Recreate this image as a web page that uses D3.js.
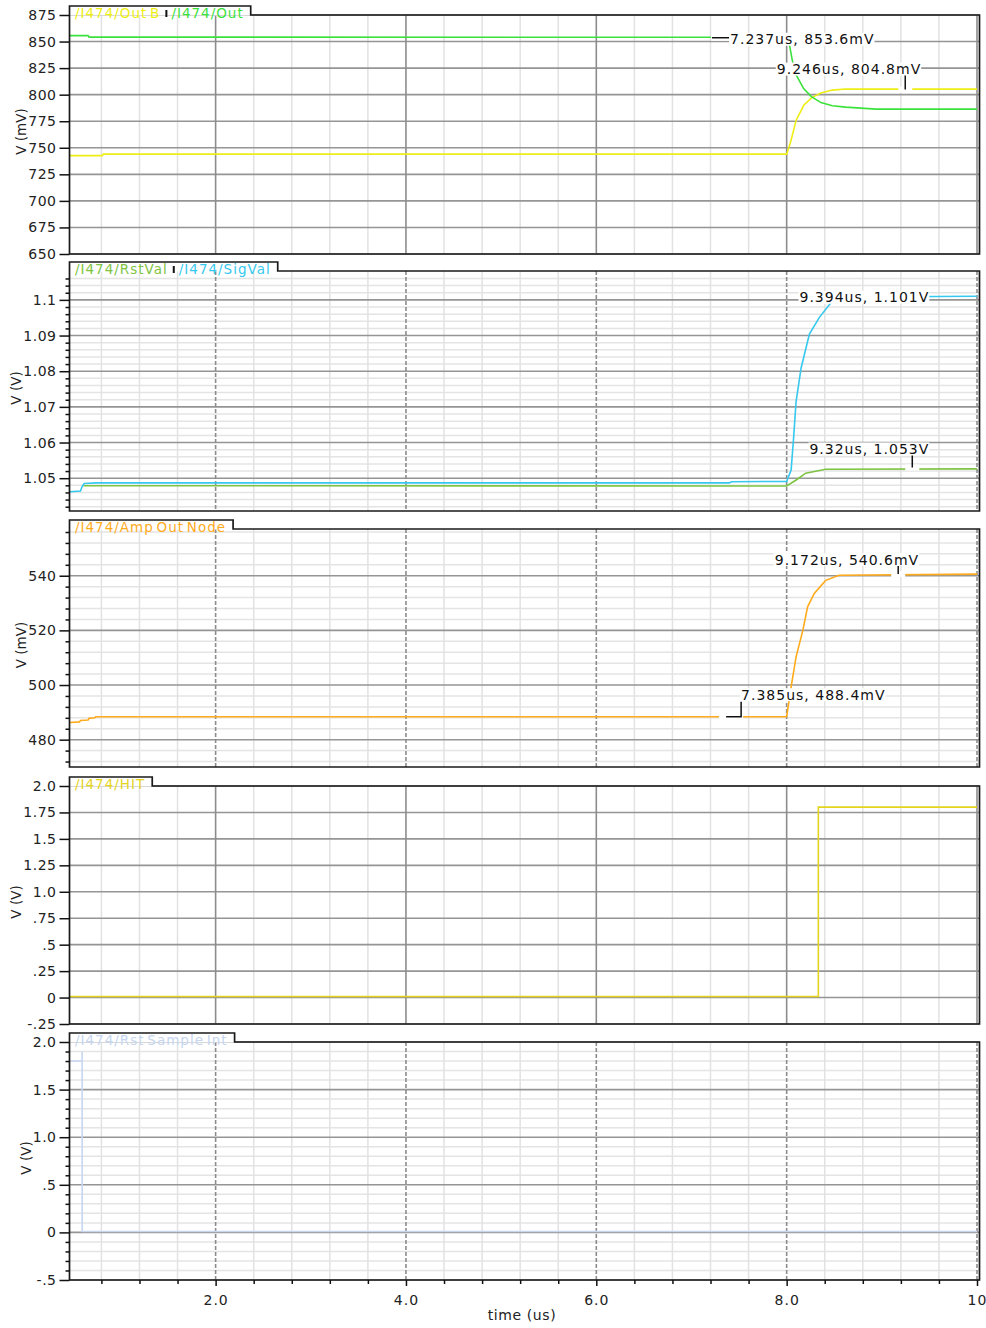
<!DOCTYPE html>
<html>
<head>
    <meta charset="utf-8">
    <title>Transient waveforms</title>
    <script src="https://d3js.org/d3.v7.min.js"></script>
    <style>
        body { margin: 0; background: #fff; }
        text { font-family: "DejaVu Sans", Verdana, sans-serif; }
    </style>
</head>
<body>
<div id="cont"></div>
<script>
var timeMajor = [2, 4, 6, 8, 10];
var timeLabels = ['2.0', '4.0', '6.0', '8.0', '10'];
var timeMinor = [0.8, 1.2, 1.6, 2.4, 2.8, 3.2, 3.6, 4.4, 4.8, 5.2, 5.6, 6.4, 6.8, 7.2, 7.6, 8.4, 8.8, 9.2, 9.6];

var outTicks = [650, 675, 700, 725, 750, 775, 800, 825, 850, 875];
var outLabels = ['650', '675', '700', '725', '750', '775', '800', '825', '850', '875'];
var valTicks = [1.05, 1.06, 1.07, 1.08, 1.09, 1.1];
var valLabels = ['1.05', '1.06', '1.07', '1.08', '1.09', '1.1'];
var valMinor = [1.042, 1.044, 1.046, 1.048, 1.052, 1.054, 1.056, 1.058, 1.062, 1.064, 1.066, 1.068,
    1.072, 1.074, 1.076, 1.078, 1.082, 1.084, 1.086, 1.088, 1.092, 1.094, 1.096, 1.098, 1.102, 1.104, 1.106];
var ampTicks = [480, 500, 520, 540];
var ampLabels = ['480', '500', '520', '540'];
var ampMinor = [472, 476, 484, 488, 492, 496, 504, 508, 512, 516, 524, 528, 532, 536, 544, 548, 552, 556];
var hitTicks = [-0.25, 0, 0.25, 0.5, 0.75, 1.0, 1.25, 1.5, 1.75, 2.0];
var hitLabels = ['-.25', '0', '.25', '.5', '.75', '1.0', '1.25', '1.5', '1.75', '2.0'];
var rstTicks = [-0.5, 0, 0.5, 1.0, 1.5, 2.0];
var rstLabels = ['-.5', '0', '.5', '1.0', '1.5', '2.0'];
var rstMinor = [-0.4, -0.3, -0.2, -0.1, 0.1, 0.2, 0.3, 0.4, 0.6, 0.7, 0.8, 0.9, 1.1, 1.2, 1.3, 1.4, 1.6, 1.7, 1.8, 1.9];

var signalNames = ['/I474/Out B', '/I474/Out', '/I474/RstVal', '/I474/SigVal',
    '/I474/Amp Out Node', '/I474/HIT', '/I474/Rst Sample Int'];

// [time (us), value]
var outB = [[0.47, 742.6], [0.81, 742.6], [0.82, 744.0], [8.0, 744.0], [8.04, 755], [8.1, 776],
    [8.18, 790], [8.26, 797], [8.36, 801.5], [8.48, 804.3], [8.62, 805.3], [10, 805.2]];
var outP = [[0.47, 855.6], [0.66, 855.6], [0.67, 854.2], [8.0, 854.0], [8.03, 846.8], [8.06, 832],
    [8.1, 818.6], [8.18, 805.5], [8.26, 798.2], [8.36, 792.5], [8.48, 789.5], [8.62, 788.3], [8.94, 786.4], [10, 786.4]];
var rstVal = [[0.61, 1.0479], [8.0, 1.0478], [8.1, 1.0495], [8.2, 1.0514], [8.41, 1.0525], [10, 1.0526]];
var sigVal = [[0.47, 1.0462], [0.58, 1.0464], [0.6, 1.0478], [0.62, 1.0485], [0.75, 1.0487], [7.4, 1.0487],
    [7.42, 1.0490], [8.0, 1.0491], [8.047, 1.0523], [8.075, 1.062], [8.099, 1.0715], [8.152, 1.0809],
    [8.239, 1.0904], [8.344, 1.0951], [8.484, 1.0998], [8.7, 1.1008], [10, 1.1010]];
var ampOut = [[0.47, 486.3], [0.57, 486.5], [0.58, 487.0], [0.66, 487.2], [0.67, 487.8], [0.73, 488.0],
    [0.74, 488.4], [8.0, 488.4], [8.047, 499.3], [8.099, 510.3], [8.17, 520], [8.22, 528.6],
    [8.29, 533.5], [8.41, 538.3], [8.55, 540.2], [10, 540.6]];
var hit = [[0.47, 0.01], [8.333, 0.01], [8.333, 1.8], [10, 1.8]];
var rstSample = [[0.47, 1.8], [0.597, 1.8], [0.597, 1.9], [0.598, 0.01], [10, 0.01]];

var outMarks = [{t: 7.237, v: 853.6, text: '7.237us, 853.6mV'}, {t: 9.246, v: 804.8, text: '9.246us, 804.8mV'}];
var valMarks = [{t: 9.394, v: 1.101, text: '9.394us, 1.101V'}, {t: 9.32, v: 1.053, text: '9.32us, 1.053V'}];
var ampMarks = [{t: 7.385, v: 488.4, text: '7.385us, 488.4mV'}, {t: 9.172, v: 540.6, text: '9.172us, 540.6mV'}];

(function() {
    var W = 986, H = 1328,
        left = 70, right = 977, frameR = 979.5,
        svg = d3.select('#cont').append('svg').attr('width', W).attr('height', H),
        x = d3.scaleLinear().domain([0.47, 10]).range([left, right]);

    var yellow = '#eeee14', green = '#3ce23c', olive = '#7ec443', cyan = '#36c8ee',
        orange = '#ffab1c', gold = '#e4d41e', pale = '#c6d6f0';

    var panels = [
        {top: 15, bottom: 254, domain: [650, 875], ticks: outTicks, labels: outLabels, minor: [], dash: false,
            title: 'V (mV)', legend: [[signalNames[0], yellow], [signalNames[1], green]],
            series: [[outB, yellow], [outP, green]], marks: outMarks,
            layouts: [{kind: 'side'}, {kind: 'above', len: 14, dx: 16}]},
        {top: 271, bottom: 511, domain: [1.0408, 1.1081], ticks: valTicks, labels: valLabels, minor: valMinor, dash: true,
            title: 'V (V)', legend: [[signalNames[2], olive], [signalNames[3], cyan]],
            series: [[rstVal, olive], [sigVal, cyan]], marks: valMarks,
            layouts: [{kind: 'left'}, {kind: 'above', len: 12, dx: 17}]},
        {top: 529, bottom: 767, domain: [470, 557.1], ticks: ampTicks, labels: ampLabels, minor: ampMinor, dash: true,
            title: 'V (mV)', legend: [[signalNames[4], orange]],
            series: [[ampOut, orange]], marks: ampMarks,
            layouts: [{kind: 'step'}, {kind: 'above', len: 8, dx: 21}]},
        {top: 786, bottom: 1024, domain: [-0.25, 2.0], ticks: hitTicks, labels: hitLabels, minor: [], dash: false,
            title: 'V (V)', legend: [[signalNames[5], gold]],
            series: [[hit, gold]], marks: [], layouts: []},
        {top: 1042, bottom: 1280, domain: [-0.5, 2.0], ticks: rstTicks, labels: rstLabels, minor: rstMinor, dash: true,
            title: 'V (V)', legend: [[signalNames[6], pale]],
            series: [[rstSample, pale]], marks: [], layouts: []}
    ];

    panels.forEach(function(p, pi) {
        var y = d3.scaleLinear().domain(p.domain).range([p.bottom, p.top]);
        var g = svg.append('g');
        var gGrid = g.append('g'), gCurve = g.append('g'), gMark = g.append('g'),
            gFrame = g.append('g'), gLegend = g.append('g'), gAxis = g.append('g');

        svg.append('clipPath').attr('id', 'clip' + pi)
            .append('rect').attr('x', left).attr('y', p.top).attr('width', frameR - left).attr('height', p.bottom - p.top);
        gCurve.attr('clip-path', 'url(#clip' + pi + ')');

        //grid
        gGrid.selectAll('.hmin').data(p.minor).enter().append('line')
            .attr('x1', left).attr('x2', frameR).attr('y1', y).attr('y2', y)
            .attr('stroke', '#e4e4e4').attr('stroke-width', 1.5);
        gGrid.selectAll('.vmin').data(timeMinor).enter().append('line')
            .attr('x1', x).attr('x2', x).attr('y1', p.top).attr('y2', p.bottom)
            .attr('stroke', '#e2e2e2').attr('stroke-width', 1.5);
        gGrid.selectAll('.hmaj').data(p.ticks).enter().append('line')
            .attr('x1', left).attr('x2', frameR).attr('y1', y).attr('y2', y)
            .attr('stroke', '#959595').attr('stroke-width', 1.6);
        gGrid.selectAll('.vmaj').data(timeMajor).enter().append('line')
            .attr('x1', x).attr('x2', x).attr('y1', p.top).attr('y2', p.bottom)
            .attr('stroke', '#8c8c8c').attr('stroke-width', 1.6)
            .attr('stroke-dasharray', p.dash ? '4,2' : null);

        //curves
        var line = d3.line().x(function(d) { return x(d[0]); }).y(function(d) { return y(d[1]); });
        p.series.forEach(function(s) {
            gCurve.append('path').attr('d', line(s[0])).attr('fill', 'none')
                .attr('stroke', s[1]).attr('stroke-width', 1.6);
        });

        //markers
        p.marks.forEach(function(m, i) {
            var lay = p.layouts[i], px = x(m.t), py = y(m.v);
            var txt = gMark.append('text').attr('font-size', 14).style('letter-spacing', '1px')
                .attr('fill', '#111').attr('dy', '0.36em').text(m.text);
            var w = txt.node().getComputedTextLength(), tx, ty;
            if (lay.kind === 'side') {
                gMark.insert('rect', 'text').attr('x', px - 3).attr('y', py - 3).attr('width', 18).attr('height', 6).attr('fill', '#fff');
                gMark.append('line').attr('x1', px - 2).attr('x2', px + 15).attr('y1', py).attr('y2', py)
                    .attr('stroke', '#111').attr('stroke-width', 1.5);
                tx = px + 16; ty = py + 1.5;
            } else if (lay.kind === 'above') {
                gMark.insert('rect', 'text').attr('x', px - 7).attr('y', py - 3).attr('width', 14).attr('height', 6).attr('fill', '#fff');
                gMark.append('line').attr('x1', px).attr('x2', px).attr('y1', py).attr('y2', py - lay.len)
                    .attr('stroke', '#111').attr('stroke-width', 1.5);
                tx = px + lay.dx - w; ty = py - lay.len - 6.5;
            } else if (lay.kind === 'left') {
                tx = px + 10 - w; ty = py + 1;
            } else {
                gMark.insert('rect', 'text').attr('x', px - 9).attr('y', py - 3).attr('width', 24).attr('height', 6).attr('fill', '#fff');
                gMark.append('path').attr('d', 'M' + (px - 2) + ',' + py + 'H' + (px + 13) + 'V' + (py - 15))
                    .attr('fill', 'none').attr('stroke', '#111').attr('stroke-width', 1.5);
                tx = px + 13; ty = py - 22;
            }
            txt.attr('x', tx).attr('y', ty);
            gMark.insert('rect', 'text').attr('x', tx - 1).attr('y', ty - 6.5)
                .attr('width', w + 1).attr('height', 13).attr('fill', '#fff');
        });

        //legend
        var lx = 75;
        p.legend.forEach(function(l, i) {
            if (i > 0) {
                gLegend.append('line').attr('x1', lx + 2).attr('x2', lx + 2).attr('y1', p.top - 5).attr('y2', p.top + 2)
                    .attr('stroke', '#111').attr('stroke-width', 2);
                lx += 7;
            }
            var t = gLegend.append('text').attr('x', lx).attr('y', p.top + 3)
                .attr('font-size', 13.5).style('letter-spacing', '1px').style('word-spacing', '-2.5px')
                .attr('fill', l[1]).text(l[0]);
            lx += t.node().getComputedTextLength() + 4;
        });
        var tabR = lx + 3;

        //frame with legend tab
        gFrame.append('rect').attr('x', left).attr('y', p.top - 9).attr('width', tabR - left).attr('height', 9.5).attr('fill', '#fff');
        gFrame.append('path')
            .attr('d', 'M' + (left - 0.5) + ',' + p.bottom + 'V' + (p.top - 9) + 'H' + tabR + 'V' + p.top +
                'H' + frameR + 'V' + p.bottom + 'Z')
            .attr('fill', 'none').attr('stroke', '#1a1a1a').attr('stroke-width', 1.7);

        //y axes
        var ax = gAxis.append('g').attr('transform', 'translate(' + (left - 0.5) + ',0)')
            .call(d3.axisLeft(y).tickValues(p.ticks).tickSize(10).tickPadding(3)
                .tickFormat(function(d, i) { return p.labels[i]; }));
        ax.attr('font-size', 14).attr('font-family', null).style('letter-spacing', '0.5px');
        ax.select('.domain').remove();
        ax.selectAll('line').attr('stroke', '#111').attr('stroke-width', 1.5);
        ax.selectAll('text').attr('fill', '#222');
        if (p.minor.length) {
            var mx = gAxis.append('g').attr('transform', 'translate(' + (left - 0.5) + ',0)')
                .call(d3.axisLeft(y).tickValues(p.minor).tickSize(4).tickFormat(''));
            mx.select('.domain').remove();
            mx.selectAll('line').attr('stroke', '#111').attr('stroke-width', 1.5);
        }
        // bbox is in the axis group's own coordinates
        var bb = ax.node().getBBox();
        gAxis.append('text')
            .attr('transform', 'translate(' + (left - 0.5 + bb.x - 7) + ',' + ((p.top + p.bottom) / 2 - 3) + ') rotate(-90)')
            .attr('text-anchor', 'middle').attr('dy', '0.36em').attr('font-size', 13.5).attr('fill', '#222')
            .text(p.title);

        //time axis under the last panel
        if (pi === panels.length - 1) {
            var xa = g.append('g').attr('transform', 'translate(0,' + p.bottom + ')')
                .call(d3.axisBottom(x).tickValues(timeMajor).tickSize(6).tickPadding(9)
                    .tickFormat(function(d, i) { return timeLabels[i]; }));
            xa.attr('font-size', 14).attr('font-family', null).style('letter-spacing', '1px');
            xa.select('.domain').remove();
            xa.selectAll('line').attr('stroke', '#111').attr('stroke-width', 1.5);
            xa.selectAll('text').attr('fill', '#222');
            var xm = g.append('g').attr('transform', 'translate(0,' + p.bottom + ')')
                .call(d3.axisBottom(x).tickValues(timeMinor).tickSize(4).tickFormat(''));
            xm.select('.domain').remove();
            xm.selectAll('line').attr('stroke', '#111').attr('stroke-width', 1.5);
            g.append('text').attr('x', 522).attr('y', 1320).attr('text-anchor', 'middle')
                .attr('font-size', 14).style('letter-spacing', '0.6px').attr('fill', '#222').text('time (us)');
        }
    });
})();
</script>
</body>
</html>
